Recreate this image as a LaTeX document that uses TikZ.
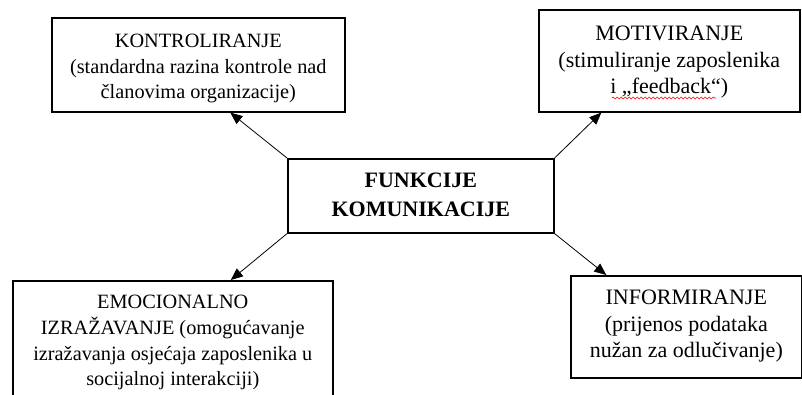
\documentclass[tikz,border=0pt]{standalone}
\usepackage{fontspec}
\setmainfont{Liberation Serif}
\usetikzlibrary{arrows.meta,decorations.pathmorphing}
\tikzset{
  box/.style={draw,line width=1.6pt,align=center,inner sep=0pt,anchor=north west},
  small/.style={font=\fontsize{20.3}{25.8}\selectfont},
  large/.style={font=\fontsize{22}{26.8}\selectfont},
  link/.style={line width=.8pt,-{Triangle[length=12pt,width=10pt]}}
}
\begin{document}
\begin{tikzpicture}[x=1pt,y=-1pt]
  \useasboundingbox (0,0) rectangle (802,394);
  \node[box,small,minimum width=293pt,text height=81pt,text depth=13pt] (kon) at (51,17)
    {KONTROLIRANJE\\(standardna razina kontrole nad\\članovima organizacije)};
  \node[box,large,minimum width=261pt,text height=84pt,text depth=18pt] (mot) at (538,9)
    {MOTIVIRANJE\\(stimuliranje zaposlenika\\i „feedback“)};
  \node[box,minimum width=266pt,text height=58pt,text depth=16pt,
    font=\bfseries\fontsize{22}{29}\selectfont] (kom) at (287,158)
    {FUNKCIJE\\KOMUNIKACIJE};
  \node[box,small,minimum width=320pt,text height=105pt,text depth=40pt] (emo) at (12,280)
    {EMOCIONALNO\\IZRAŽAVANJE (omogućavanje\\izražavanja osjećaja zaposlenika u\\socijalnoj interakciji)};
  \node[box,large,minimum width=231pt,text height=82pt,text depth=20pt] (inf) at (570,275)
    {INFORMIRANJE\\(prijenos podataka\\nužan za odlučivanje)};
  \draw[link] (kom.north west) -- ([xshift=32pt]kon.south);
  \draw[link] (kom.north east) -- ([xshift=-68pt]mot.south);
  \draw[link] (kom.south west) -- ([xshift=58pt]emo.north);
  \draw[link] (kom.south east) -- ([xshift=-80pt]inf.north);
  \draw[red,line width=.6pt,decorate,decoration={snake,amplitude=1pt,segment length=4pt}]
    (612,98) -- (716,98);
\end{tikzpicture}
\end{document}
